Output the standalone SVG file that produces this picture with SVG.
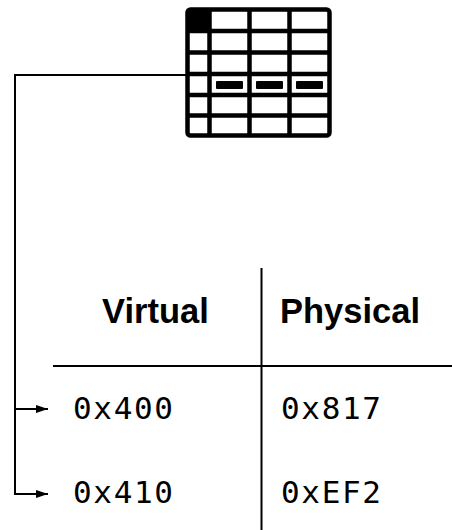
<svg xmlns="http://www.w3.org/2000/svg" width="452" height="530" viewBox="0 0 452 530">
<style>
.ln{stroke:#000;stroke-width:2;fill:none}
.grid{stroke:#000;stroke-width:4.5;fill:none}
.hdr{font-family:"Liberation Sans",Arial,sans-serif;font-weight:bold;font-size:34.5px;fill:#000}
.addr{font-family:"DejaVu Sans Mono","Liberation Mono",monospace;font-size:31px;fill:#000}
</style>
<defs>
<marker id="ah" markerWidth="12" markerHeight="8" refX="12" refY="4" orient="auto" markerUnits="userSpaceOnUse">
<path d="M0,0 L12,4 L0,8 Z" fill="#000"/>
</marker>
</defs>
<rect width="452" height="530" fill="#fff"/>
<g id="pagetable">
<rect x="187.5" y="9.5" width="22" height="21.5" fill="#000"/>
<rect x="187.5" y="9.5" width="142" height="126" rx="3" class="grid"/>
<path class="grid" d="M187.5 31H329.5M187.5 52.5H329.5M187.5 74H329.5M187.5 95H329.5M187.5 115.5H329.5M209.5 9.5V135.5M249.5 9.5V135.5M289.5 9.5V135.5"/>
<rect x="216" y="81" width="27" height="8" rx="1" fill="#000"/>
<rect x="256" y="81" width="27" height="8" rx="1" fill="#000"/>
<rect x="296" y="81" width="27" height="8" rx="1" fill="#000"/>
</g>
<g id="table">
<path class="ln" d="M261.5 268V530M53 366H452"/>
<text class="hdr" x="102" y="323">Virtual</text>
<text class="hdr" x="280" y="323">Physical</text>
</g>
<g id="row1">
<text class="addr" x="73" y="419" textLength="100" lengthAdjust="spacing">0x400</text>
<text class="addr" x="281" y="419" textLength="100" lengthAdjust="spacing">0x817</text>
</g>
<g id="row2">
<text class="addr" x="73" y="503" textLength="100" lengthAdjust="spacing">0x410</text>
<text class="addr" x="281" y="503" textLength="100" lengthAdjust="spacing">0xEF2</text>
</g>
<g id="connectors">
<path class="ln" d="M186 75H15V494H48" marker-end="url(#ah)"/>
<path class="ln" d="M15 409H48" marker-end="url(#ah)"/>
</g>
</svg>
